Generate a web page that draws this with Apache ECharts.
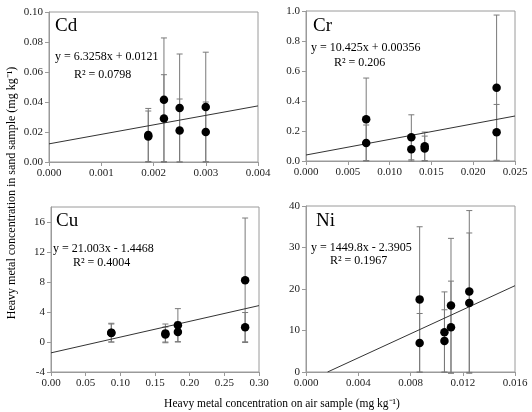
<!DOCTYPE html>
<html>
<head>
<meta charset="utf-8">
<script src="https://cdn.jsdelivr.net/npm/echarts@6/dist/echarts.min.js"></script>
<style>
html, body { margin: 0; padding: 0; background: #fff; }
#container { width: 532px; height: 412px; }
</style>
</head>
<body>
<div id="container"></div>
<script>
// Cd
var cdX = [0.0019, 0.0019, 0.0022, 0.0022, 0.0025, 0.0025, 0.0030, 0.0030];
var cdY = [0.018, 0.017, 0.0415, 0.029, 0.036, 0.021, 0.0367, 0.020];
var cdErr = [0.0177, 0.017, 0.0412, 0.0292, 0.036, 0.021, 0.0365, 0.020];
var cdTrendX = [0, 0.004];
var cdTrendY = [0.0121, 0.0374];
// Cr
var crX = [0.0072, 0.0072, 0.0126, 0.0126, 0.0142, 0.0142, 0.0228, 0.0228];
var crY = [0.278, 0.12, 0.158, 0.078, 0.098, 0.083, 0.488, 0.191];
var crErr = [0.275, 0.12, 0.15, 0.078, 0.095, 0.083, 0.485, 0.186];
var crTrendX = [0, 0.025];
var crTrendY = [0.04, 0.30];
// Cu
var cuX = [0.087, 0.087, 0.165, 0.165, 0.183, 0.183, 0.28, 0.28];
var cuY = [1.25, 1.2, 1.15, 1.0, 2.25, 1.32, 8.23, 1.98];
var cuErr = [1.25, 1.2, 1.25, 1.0, 2.2, 1.32, 8.3, 1.95];
var cuTrendX = [0, 0.30];
var cuTrendY = [-1.447, 4.854];
// Ni
var niX = [0.0087, 0.0087, 0.0106, 0.0106, 0.0111, 0.0111, 0.0125, 0.0125];
var niY = [17.5, 7.0, 9.6, 7.5, 16.0, 10.8, 19.4, 16.6];
var niErr = [17.5, 7.1, 9.7, 7.5, 16.2, 11.1, 19.5, 16.9];
var niTrendX = [0.00165, 0.016];
var niTrendY = [0, 20.8];

var panelNames = ['Cd', 'Cr', 'Cu', 'Ni'];
var equations = ['y = 6.3258x + 0.0121', 'y = 10.425x + 0.00356', 'y = 21.003x - 1.4468', 'y = 1449.8x - 2.3905'];
var rSquared = ['0.0798', '0.206', '0.4004', '0.1967'];
var xTitle = 'Heavy metal concentration on air sample (mg kg';
var yTitle = 'Heavy metal concentration in sand sample (mg kg';

var FONT = '"Liberation Serif", "Times New Roman", serif';
var frameColor = '#9a9a9a';
var barColor = '#7a7a7a';

function pairs(xs, ys) {
    var out = [];
    for (var i = 0; i < xs.length; i++) {
        out.push([xs[i], ys[i]]);
    }
    return out;
}
function errData(xs, ys, es) {
    var out = [];
    for (var i = 0; i < xs.length; i++) {
        out.push([xs[i], ys[i] - es[i], ys[i] + es[i]]);
    }
    return out;
}
function renderErr(params, api) {
    var x = api.value(0);
    var top = api.coord([x, api.value(2)]);
    var bot = api.coord([x, api.value(1)]);
    var w = 3;
    var st = { stroke: barColor, lineWidth: 1 };
    return {
        type: 'group',
        children: [
            { type: 'line', shape: { x1: top[0], y1: top[1], x2: bot[0], y2: bot[1] }, style: st },
            { type: 'line', shape: { x1: top[0] - w, y1: top[1], x2: top[0] + w, y2: top[1] }, style: st },
            { type: 'line', shape: { x1: bot[0] - w, y1: bot[1], x2: bot[0] + w, y2: bot[1] }, style: st }
        ]
    };
}

var grids = [
    { left: 49, top: 12, width: 209, height: 150 },
    { left: 306, top: 11, width: 209, height: 150 },
    { left: 51, top: 207, width: 208, height: 165 },
    { left: 306, top: 206, width: 209, height: 166 }
];
var xRanges = [[0, 0.004, 0.001, 3], [0, 0.025, 0.005, 3], [0, 0.30, 0.05, 2], [0, 0.016, 0.004, 3]];
var yRanges = [[0, 0.10, 0.02, 2], [0, 1.0, 0.2, 1], [-4, 18, 4, 0], [0, 40, 10, 0]];

function axis(r, gi) {
    return {
        type: 'value',
        gridIndex: gi,
        min: r[0],
        max: r[1],
        interval: r[2],
        splitLine: { show: false },
        axisLine: { show: true, onZero: false, lineStyle: { color: frameColor, width: 1 } },
        axisTick: { show: true, inside: false, length: 4, lineStyle: { color: frameColor } },
        axisLabel: {
            color: '#222',
            fontFamily: FONT,
            fontSize: 11,
            margin: 6,
            showMaxLabel: (r[1] - r[0]) % r[2] < 1e-9 || Math.abs((r[1] - r[0]) % r[2] - r[2]) < 1e-9,
            formatter: function (v) { return v.toFixed(r[3]); }
        }
    };
}

var xData = [[cdX, cdY, cdErr, cdTrendX, cdTrendY], [crX, crY, crErr, crTrendX, crTrendY],
             [cuX, cuY, cuErr, cuTrendX, cuTrendY], [niX, niY, niErr, niTrendX, niTrendY]];

var xAxes = [], yAxes = [], series = [], graphics = [];
for (var g = 0; g < 4; g++) {
    grids[g].show = true;
    grids[g].borderColor = frameColor;
    grids[g].borderWidth = 1;
    xAxes.push(axis(xRanges[g], g));
    yAxes.push(axis(yRanges[g], g));
    var d = xData[g];
    series.push({
        type: 'custom',
        xAxisIndex: g,
        yAxisIndex: g,
        renderItem: renderErr,
        data: errData(d[0], d[1], d[2]),
        z: 2,
        silent: true
    });
    series.push({
        type: 'line',
        xAxisIndex: g,
        yAxisIndex: g,
        data: pairs(d[3], d[4]),
        symbol: 'none',
        lineStyle: { color: '#333', width: 1 },
        z: 3,
        silent: true
    });
    series.push({
        type: 'scatter',
        xAxisIndex: g,
        yAxisIndex: g,
        data: pairs(d[0], d[1]),
        symbol: 'circle',
        symbolSize: 8.5,
        itemStyle: { color: '#000', opacity: 1 },
        z: 4
    });
}

// panel texts
var namePos = [[55, 26], [313, 26], [56, 221], [316, 221]];
var eqPos = [[55, 57], [311, 48], [53, 249], [311, 248]];
var rPos = [[74, 75], [334, 63], [73, 263], [330, 261]];
for (var k = 0; k < 4; k++) {
    graphics.push({ type: 'text', x: namePos[k][0], y: namePos[k][1],
        style: { text: panelNames[k], font: '19px ' + FONT, fill: '#000', textVerticalAlign: 'middle' } });
    graphics.push({ type: 'text', x: eqPos[k][0], y: eqPos[k][1],
        style: { text: equations[k], font: '12px ' + FONT, fill: '#000', textVerticalAlign: 'middle' } });
    graphics.push({ type: 'text', x: rPos[k][0], y: rPos[k][1],
        style: { text: 'R\u00b2 = ' + rSquared[k], font: '12px ' + FONT, fill: '#000', textVerticalAlign: 'middle' } });
}
graphics.push({ type: 'text', x: 282, y: 404,
    style: { text: xTitle + '\u207b\u00b9)', font: '11.5px ' + FONT, fill: '#000', textAlign: 'center', textVerticalAlign: 'middle' } });
graphics.push({ type: 'text', x: 12, y: 193, rotation: Math.PI / 2,
    style: { text: yTitle + '\u207b\u00b9)', font: '12px ' + FONT, fill: '#000', textAlign: 'center', textVerticalAlign: 'middle' } });

var dom = document.getElementById('container');
var myChart = echarts.init(dom, null, { renderer: 'canvas' });
var option = {
    animation: false,
    backgroundColor: '#fff',
    grid: grids,
    xAxis: xAxes,
    yAxis: yAxes,
    series: series,
    graphic: graphics
};
myChart.setOption(option, true);
</script>
</body>
</html>
